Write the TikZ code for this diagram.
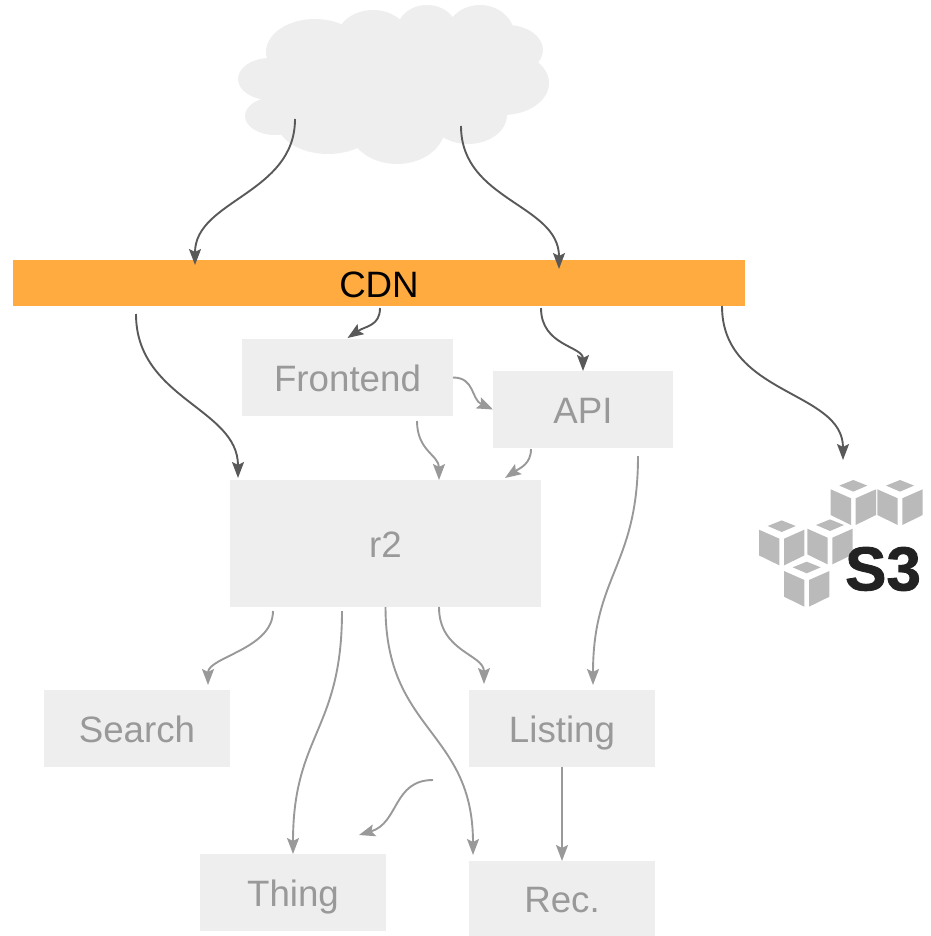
\documentclass[tikz,border=0pt]{standalone}
\usepackage{fontspec}
\setmainfont{Liberation Sans}
\newfontfamily\logofont[FakeBold=1.3]{Liberation Sans Bold}
\usetikzlibrary{positioning,arrows.meta}
\definecolor{boxgrey}{HTML}{EEEEEE}
\definecolor{textgrey}{HTML}{999999}
\definecolor{linedark}{HTML}{595959}
\definecolor{cdnorange}{HTML}{FFAB40}
\definecolor{cubegrey}{HTML}{BABABA}
\definecolor{logoblack}{HTML}{222222}

\begin{document}
\begin{tikzpicture}[
    x=1pt, y=-1pt,
    box/.style={
        fill=boxgrey,
        text=textgrey,
        minimum width=186pt,
        minimum height=77pt,
        inner sep=0pt,
        outer sep=0pt,
        text height=34pt,
        text depth=6pt,
        font=\fontsize{36.7}{40}\selectfont
    },
    darkarrow/.style={-{Stealth[length=16pt,width=12pt,inset=3pt]}, line width=1.9pt, linedark},
    greyarrow/.style={-{Stealth[length=16pt,width=12pt,inset=3pt]}, line width=1.9pt, textgrey}
]
\useasboundingbox (0,0) rectangle (930,936);

% Cloud
\fill[boxgrey] (280,45) rectangle (500,118);
\fill[boxgrey] (345,25) rectangle (470,50);
\foreach \cx/\cy/\rx/\ry in {270/79/32/21, 275/116/30/19, 315/52/49/33, 373/40/37/30,
    427/30/30/25, 480/37/35/32, 507/50/36/25, 503/83/46/32, 468/115/39/29,
    397/127/48/37, 328/120/52/34}
    \fill[boxgrey] (\cx,\cy) ellipse [x radius=\rx, y radius=\ry];
\coordinate (cloudleft) at (295,119);
\coordinate (cloudright) at (461,126);

% CDN bar
\node[box, fill=cdnorange, text=black, anchor=north west, minimum width=732pt, minimum height=46pt]
    (cdn) at (13,260) {CDN};

% Services
\node[box, below right=33pt and 229pt of cdn.south west, minimum width=211pt] (frontend) {Frontend};
\node[box, below right=32pt and 40pt of frontend.north east, minimum width=180pt] (api) {API};
\node[box, below=64pt of frontend.south west, anchor=north west, xshift=-12pt,
    minimum width=311pt, minimum height=127pt] (r2) {r2};
\node[box, below left=83pt and 0pt of r2.south west] (search) {Search};
\node[box, below right=83pt and 239pt of r2.south west] (listing) {Listing};
\node[box, below right=87pt and 156pt of search.south west] (thing) {Thing};
\node[box, below=94pt of listing.south, minimum height=75pt] (rec) {Rec.};

% S3 logo
\foreach \vx/\vy in {853.3/498.3, 900/498.3, 781.7/538.7, 830/537.7, 806.7/580} {
    \fill[cubegrey] (\vx-14,\vy-12.7) -- (\vx,\vy-18.3) -- (\vx+14,\vy-12.7) -- (\vx,\vy-6.7) -- cycle;
    \fill[cubegrey] (\vx-22.7,\vy-9) -- (\vx-2.3,\vy) -- (\vx-2.3,\vy+26.7) -- (\vx-22.7,\vy+16.7) -- cycle;
    \fill[cubegrey] (\vx+22.7,\vy-9) -- (\vx+2.3,\vy) -- (\vx+2.3,\vy+26.7) -- (\vx+22.7,\vy+16.7) -- cycle;
}
\node[inner sep=0pt, text=logoblack, font=\fontsize{62}{62}\logofont] (s3) at (883,569) {S3};
\coordinate (s3in) at (843,460);

% Dark arrows
\draw[darkarrow] (cloudleft) .. controls +(0,75) and +(0,-65) .. ([shift={(182,5)}]cdn.north west);
\draw[darkarrow] (cloudright) .. controls +(0,75) and +(0,-65) .. ([shift={(546,9)}]cdn.north west);
\draw[darkarrow] ([shift={(123,8)}]cdn.south west) .. controls +(0,85) and +(0,-70) .. ([shift={(8,-2)}]r2.north west);
\draw[darkarrow] ([shift={(367,2)}]cdn.south west) .. controls +(0,18) and +(18,-12) .. ([shift={(0,-1)}]frontend.north);
\draw[darkarrow] ([shift={(528,2)}]cdn.south west) .. controls +(0,38) and +(0,-25) .. (api.north);
\draw[darkarrow] ([shift={(709,0)}]cdn.south west) .. controls +(0,90) and +(0,-70) .. (s3in);

% Grey arrows
\draw[greyarrow] (frontend.east) .. controls +(22,0) and +(-22,-10) .. (api.west);
\draw[greyarrow] ([shift={(-36,5)}]frontend.south east) .. controls +(0,30) and +(0,-25) .. ([shift={(209,0)}]r2.north west);
\draw[greyarrow] ([shift={(38,1)}]api.south west) .. controls +(0,15) and +(15,-10) .. ([shift={(-36,-2)}]r2.north east);
\draw[greyarrow] ([shift={(-35,8)}]api.south east) .. controls +(0,110) and +(0,-110) .. ([shift={(124,-5)}]listing.north west);
\draw[greyarrow] ([shift={(43,4)}]r2.south west) .. controls +(0,38) and +(0,-28) .. ([shift={(-22,-5)}]search.north east);
\draw[greyarrow] ([shift={(112,4)}]r2.south west) .. controls +(0,120) and +(0,-120) .. (thing.north);
\draw[greyarrow] (r2.south) .. controls +(0,125) and +(0,-125) .. ([shift={(4,-6)}]rec.north west);
\draw[greyarrow] ([shift={(209,0)}]r2.south west) .. controls +(0,45) and +(0,-30) .. ([shift={(15,-6)}]listing.north west);
\coordinate (freestart) at (433,780);
\coordinate (freeend) at (359,835);
\draw[greyarrow] (freestart) .. controls +(-40,0) and +(40,-12) .. (freeend);
\draw[greyarrow] (listing.south) -- (rec.north);

\end{tikzpicture}
\end{document}
